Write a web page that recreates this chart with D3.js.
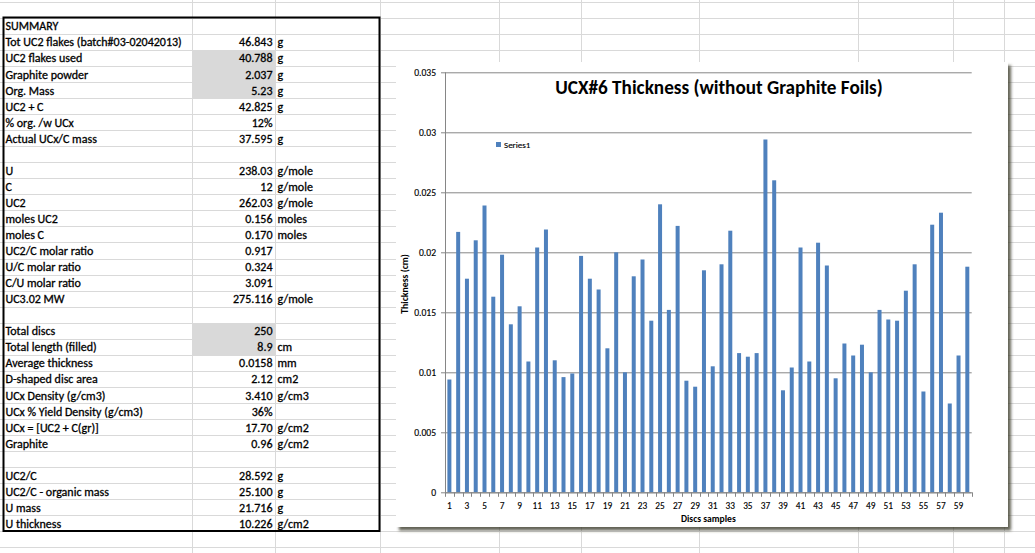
<!DOCTYPE html>
<html><head><meta charset="utf-8">
<script src="https://cdn.jsdelivr.net/npm/d3@7"></script>
<style>
html,body{margin:0;padding:0;background:#fff;overflow:hidden}
svg{display:block}
text{font-family:Carlito,Calibri,Lato,sans-serif}
</style></head><body>
<svg id="c" width="1035" height="553"></svg>
<script>
// ---------- DATA ----------
const tableLabels = ["SUMMARY","Tot UC2 flakes (batch#03-02042013)","UC2 flakes used","Graphite powder","Org. Mass","UC2 + C","% org. /w UCx","Actual UCx/C mass","",
  "U","C","UC2","moles UC2","moles C","UC2/C molar ratio","U/C molar ratio","C/U molar ratio","UC3.02 MW","",
  "Total discs","Total length (filled)","Average thickness","D-shaped disc area","UCx Density (g/cm3)","UCx % Yield Density (g/cm3)","UCx = [UC2 + C(gr)]","Graphite","",
  "UC2/C","UC2/C - organic mass","U mass","U thickness"];
const tableValues = ["","46.843","40.788","2.037","5.23","42.825","12%","37.595","",
  "238.03","12","262.03","0.156","0.170","0.917","0.324","3.091","275.116","",
  "250","8.9","0.0158","2.12","3.410","36%","17.70","0.96","",
  "28.592","25.100","21.716","10.226"];
const tableUnits = ["","g","g","g","g","g","","g","",
  "g/mole","g/mole","g/mole","moles","moles","","","","g/mole","",
  "","cm","mm","cm2","g/cm3","","g/cm2","g/cm2","",
  "g","g","g","g/cm2"];
const inputLabels = ["UC2 flakes used","Graphite powder","Org. Mass","Total discs","Total length (filled)"];

const discs = [1,2,3,4,5,6,7,8,9,10,11,12,13,14,15,16,17,18,19,20,21,22,23,24,25,26,27,28,29,30,
  31,32,33,34,35,36,37,38,39,40,41,42,43,44,45,46,47,48,49,50,51,52,53,54,55,56,57,58,59,60];
const thickness = [0.0094,0.0217,0.0178,0.0210,0.0239,0.0163,0.0198,0.0140,0.0155,0.0109,
  0.0204,0.0219,0.0110,0.0096,0.0099,0.0197,0.0178,0.0169,0.0120,0.0200,
  0.0100,0.0180,0.0194,0.0143,0.0240,0.0152,0.0222,0.0093,0.0088,0.0185,
  0.0105,0.0190,0.0218,0.0116,0.0113,0.0116,0.0294,0.0260,0.0085,0.0104,
  0.0204,0.0109,0.0208,0.0189,0.0095,0.0124,0.0114,0.0123,0.0100,0.0152,
  0.0144,0.0143,0.0168,0.0190,0.0084,0.0223,0.0233,0.0074,0.0114,0.0188];
const yTicks = [0,0.005,0.01,0.015,0.02,0.025,0.03,0.035];
const yTickLabels = ["0","0.005","0.01","0.015","0.02","0.025","0.03","0.035"];
const chartTitle = "UCX#6 Thickness (without Graphite Foils)";
const seriesName = "Series1";
const xTitle = "Discs samples";
const yTitle = "Thickness (cm)";

// ---------- SHEET ----------
const svg = d3.select('#c');
svg.append('rect').attr('width',1035).attr('height',553).attr('fill','#fff');
const rowH = 16.05, row0 = 1.7;
const grid = svg.append('g').attr('stroke','#d9d9d9').attr('stroke-width',1);
d3.range(0,35).forEach(k=>{
  const y = Math.round(row0+rowH*k)+0.5;
  grid.append('line').attr('x1',0).attr('x2',1035).attr('y1',y).attr('y2',y);
});
[192,275,380,498.5,581,699,858,953,1004].forEach(x=>{
  const xx=Math.round(x)+0.5;
  grid.append('line').attr('x1',xx).attr('x2',xx).attr('y1',0).attr('y2',553);
});
const rowTop = i => row0 + rowH*(i+1);
const shade = svg.append('g');
tableLabels.forEach((lab,i)=>{
  if(inputLabels.includes(lab)){
    shade.append('rect').attr('x',193).attr('y',Math.round(rowTop(i))+1).attr('width',82).attr('height',15).attr('fill','#d9d9d9');
  }
});
const tbl = svg.append('g').attr('font-size',12).attr('fill','#000')
  .attr('stroke','#000').attr('stroke-width',0.3);
tableLabels.forEach((lab,i)=>{
  const yb = rowTop(i)+12.6;
  tbl.append('text').attr('x',5.5).attr('y',yb).text(lab);
  tbl.append('text').attr('x',272.5).attr('y',yb).attr('text-anchor','end').text(tableValues[i]);
  tbl.append('text').attr('x',277.5).attr('y',yb).text(tableUnits[i]);
});
svg.append('rect').attr('x',3.5).attr('y',17.5).attr('width',376).attr('height',513.5)
  .attr('fill','none').attr('stroke','#000').attr('stroke-width',2);

// ---------- CHART ----------
const defs = svg.append('defs');
const f = defs.append('filter').attr('id','sh').attr('x','-5%').attr('y','-5%').attr('width','115%').attr('height','115%');
f.append('feDropShadow').attr('dx',3).attr('dy',3.5).attr('stdDeviation',1.6).attr('flood-color','#3a3a2a').attr('flood-opacity',0.8);
svg.append('rect').attr('x',396).attr('y',62).attr('width',612).attr('height',465).attr('fill','#fff').attr('filter','url(#sh)');

const L=445, R=971.7, T=72.3, B=492.3;
const x = d3.scaleBand().domain(discs).range([L,R]).paddingInner(0.545).paddingOuter(0.2725);
const y = d3.scaleLinear().domain([0,0.035]).range([B,T]);
const g = svg.append('g');
const FF = 'Carlito,Calibri,Lato,sans-serif';

// gridlines
g.append('g').attr('transform',`translate(${L},0)`)
  .call(d3.axisLeft(y).tickValues(yTicks).tickSize(-(R-L)).tickFormat(''))
  .call(s=>{s.select('.domain').remove(); s.selectAll('line').attr('stroke','#868686');});
// y axis
g.append('g').attr('transform',`translate(${L},0)`)
  .call(d3.axisLeft(y).tickValues(yTicks).tickSize(4).tickPadding(5).tickFormat((d,i)=>yTickLabels[i]))
  .call(s=>{
    s.select('.domain').attr('stroke','#868686').attr('d',`M0.5,${T}V${B}`);
    s.selectAll('line').attr('stroke','#868686');
    s.selectAll('text').attr('font-size',9.6).attr('fill','#000').attr('font-family',FF)
      .attr('stroke','#000').attr('stroke-width',0.15);
  });
// bars
g.append('g').selectAll('rect').data(discs).join('rect')
  .attr('x',d=>x(d)).attr('width',x.bandwidth())
  .attr('y',(d,i)=>y(thickness[i])).attr('height',(d,i)=>B-y(thickness[i]))
  .attr('fill','#4f81bd');
// x axis
const xa = g.append('g').attr('transform',`translate(0,${B})`);
xa.append('line').attr('x1',L).attr('x2',R).attr('y1',0.5).attr('y2',0.5).attr('stroke','#868686');
xa.selectAll('line.tk').data(d3.range(0,discs.length+1)).join('line').attr('class','tk')
  .attr('x1',i=>Math.round(L+i*x.step())+0.5).attr('x2',i=>Math.round(L+i*x.step())+0.5)
  .attr('y1',0).attr('y2',4.5).attr('stroke','#868686');
xa.call(d3.axisBottom(x).tickValues(discs.filter(d=>d%2===1)).tickSize(0).tickPadding(10.5))
  .call(s=>{s.select('.domain').remove(); s.selectAll('text').attr('font-size',9.3).attr('fill','#000').attr('font-family',FF)
      .attr('stroke','#000').attr('stroke-width',0.15);});

// titles
g.append('text').attr('x',719).attr('y',94).attr('text-anchor','middle').attr('font-size',19.2).attr('font-weight','bold').text(chartTitle);
g.append('text').attr('x',(L+R)/2).attr('y',521.5).attr('text-anchor','middle').attr('font-size',9.6).attr('font-weight','bold').text(xTitle);
g.append('text').attr('transform','translate(408,284) rotate(-90)').attr('text-anchor','middle').attr('font-size',9.8).attr('font-weight','bold').text(yTitle);
// legend
g.append('rect').attr('x',496).attr('y',142).attr('width',5).attr('height',5).attr('fill','#4f81bd');
g.append('text').attr('x',504).attr('y',148).attr('font-size',9).attr('stroke','#000').attr('stroke-width',0.15).text(seriesName);
</script></body></html>
